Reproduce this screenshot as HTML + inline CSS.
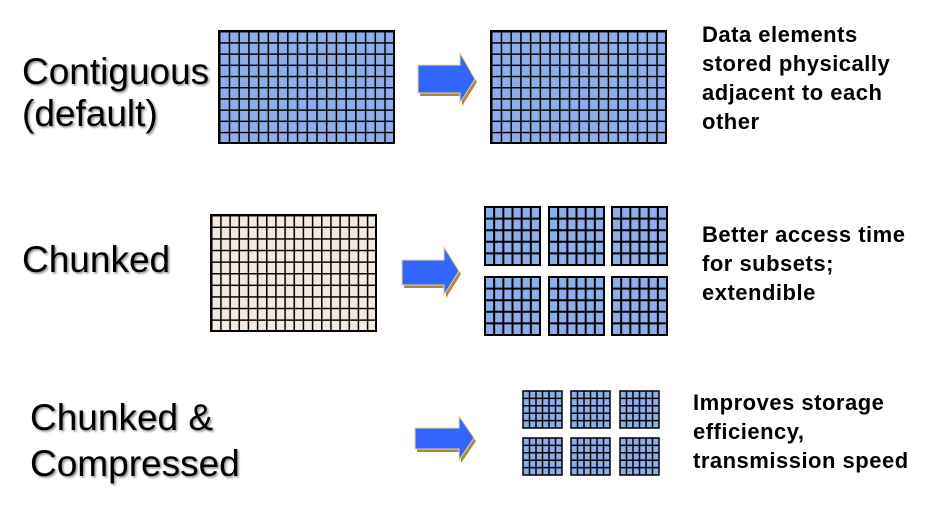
<!DOCTYPE html>
<html><head><meta charset="utf-8"><style>
html,body{margin:0;padding:0;background:#fff;}
svg{display:block}
.big{font-family:"Liberation Sans",Arial,sans-serif;font-size:37px;fill:#000;filter:url(#sh)}
.sm{font-family:"Liberation Sans",Arial,sans-serif;font-size:22px;font-weight:bold;fill:#000;letter-spacing:0.5px}
</style></head><body>
<svg width="933" height="530" viewBox="0 0 933 530" xmlns="http://www.w3.org/2000/svg">
<defs>
<filter id="sh" x="-5%" y="-5%" width="110%" height="120%"><feGaussianBlur in="SourceAlpha" stdDeviation="1"/><feOffset dx="1.5" dy="1.5"/><feComponentTransfer><feFuncA type="linear" slope="0.45"/></feComponentTransfer><feMerge><feMergeNode/><feMergeNode in="SourceGraphic"/></feMerge></filter>
<pattern id="pA" x="219" y="31" width="9.722" height="11.2" patternUnits="userSpaceOnUse"><rect width="9.722" height="11.2" fill="#8eaeea"/><path d="M0 0V11.2M0 0H9.722" stroke="#000" stroke-width="3"/></pattern>
<pattern id="pB" x="491" y="31" width="9.722" height="11.2" patternUnits="userSpaceOnUse"><rect width="9.722" height="11.2" fill="#8eaeea"/><path d="M0 0V11.2M0 0H9.722" stroke="#000" stroke-width="3"/></pattern>
<pattern id="pC" x="211" y="215" width="9.167" height="11.6" patternUnits="userSpaceOnUse"><rect width="9.167" height="11.6" fill="#f3e9de"/><path d="M0 0V11.6M0 0H9.167" stroke="#000" stroke-width="3"/></pattern>
</defs>

<text class="big" x="22" y="84">Contiguous</text>
<text class="big" x="22" y="126">(default)</text>
<text class="big" x="22" y="272">Chunked</text>
<text class="big" x="30" y="430">Chunked &amp;</text>
<text class="big" x="30" y="476">Compressed</text>

<rect x="219" y="31" width="175" height="112" fill="url(#pA)" stroke="#000" stroke-width="2"/>
<rect x="491" y="31" width="175" height="112" fill="url(#pB)" stroke="#000" stroke-width="2"/>
<rect x="211" y="215" width="165" height="116" fill="url(#pC)" stroke="#000" stroke-width="2"/>

<g id="chunks"></g>

<g>
<polygon points="420,68 462,68 462,57 477,82 462,106 462,96 420,96" fill="#a88a3a"/>
<polygon points="418,65 460,65 460,53 475,79 460,103 460,93 418,93" fill="#3366ff" stroke="#f0d890" stroke-width="1"/>
</g>
<g>
<polygon points="404,263 446,263 446,250 461,274 446,298 446,288 404,288" fill="#a88a3a"/>
<polygon points="402,260 444,260 444,247 459,271 444,295 444,285 402,285" fill="#3366ff" stroke="#f0d890" stroke-width="1"/>
</g>
<g>
<polygon points="417,431 461,431 461,419 476,441 461,463 461,452 417,452" fill="#a88a3a"/>
<polygon points="415,428 459,428 459,416 474,438 459,460 459,449 415,449" fill="#3366ff" stroke="#f0d890" stroke-width="1"/>
</g>

<text class="sm" x="702" y="42">Data elements</text>
<text class="sm" x="702" y="71">stored physically</text>
<text class="sm" x="702" y="100">adjacent to each</text>
<text class="sm" x="702" y="129">other</text>
<text class="sm" x="702" y="242">Better access time</text>
<text class="sm" x="702" y="271">for subsets;</text>
<text class="sm" x="702" y="300">extendible</text>
<text class="sm" x="693" y="410">Improves storage</text>
<text class="sm" x="693" y="439">efficiency,</text>
<text class="sm" x="693" y="468">transmission speed</text>
</svg>
<script>
(function(){
var g=document.getElementById('chunks');
function chunk(x,y,w,h,cols,rows,sw){
 var s='<rect x="'+x+'" y="'+y+'" width="'+w+'" height="'+h+'" fill="#8eaeea" stroke="#000" stroke-width="'+sw+'"/>';
 var p='';
 for(var i=1;i<cols;i++){var xx=x+w*i/cols;p+='M'+xx+' '+y+'V'+(y+h);}
 for(var j=1;j<rows;j++){var yy=y+h*j/rows;p+='M'+x+' '+yy+'H'+(x+w);}
 s+='<path d="'+p+'" stroke="#000" stroke-width="'+sw+'" fill="none"/>';
 return s;
}
var h='';
[485,549,612].forEach(function(x){[207,277].forEach(function(y){h+=chunk(x,y,55,58,6,5,2);});});
[523,571,620].forEach(function(x){[391,438].forEach(function(y){h+=chunk(x,y,39,37,6,5,1.5);});});
g.innerHTML=h;
})();
</script>
</body></html>
